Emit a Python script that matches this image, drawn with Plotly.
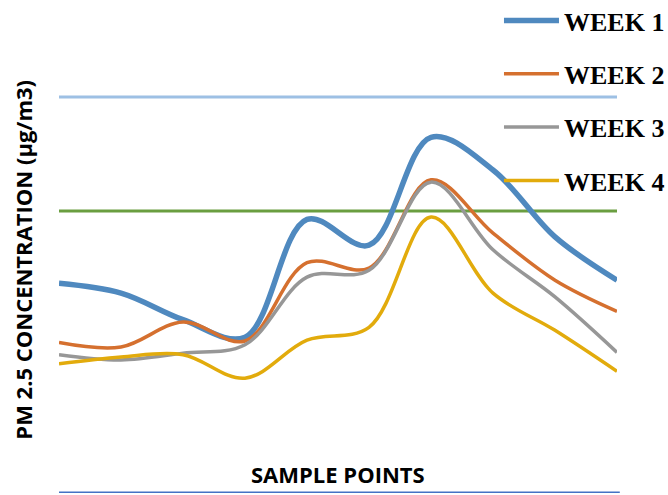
import plotly.graph_objects as go

# Sample points along the x axis (no tick labels shown)
sample_points = list(range(1, 11))

# Weekly PM2.5 concentrations (µg/m3) at each sample point
week1 = [25.5, 24.2, 20.7, 18.4, 33.9, 30.5, 44.7, 40.4, 31.6, 25.9]
week2 = [17.7, 17.1, 20.4, 17.9, 28.2, 27.5, 39.1, 32.1, 25.9, 21.8]
week3 = [16.1, 15.4, 16.3, 17.4, 26.3, 27.2, 38.8, 29.9, 23.7, 16.4]
week4 = [14.9, 15.8, 16.1, 13.0, 18.0, 19.7, 34.2, 24.2, 19.3, 13.9]

# Reference limits drawn as flat lines
limit_upper = 50
limit_lower = 35

series_names = ["WEEK 1", "WEEK 2", "WEEK 3", "WEEK 4"]
series_values = [week1, week2, week3, week4]
series_colors = ["#4f89bf", "#d5702f", "#979797", "#e2ab0c"]
series_widths = [5.5, 3.5, 3.5, 3.5]

fig = go.Figure()

fig.add_trace(go.Scatter(
    x=sample_points, y=[limit_upper] * len(sample_points), mode="lines",
    line=dict(color="#9dc0e4", width=3), showlegend=False, hoverinfo="skip"))
fig.add_trace(go.Scatter(
    x=sample_points, y=[limit_lower] * len(sample_points), mode="lines",
    line=dict(color="#6a9e40", width=3), showlegend=False, hoverinfo="skip"))

for i, (name, vals, col, w) in enumerate(zip(series_names, series_values, series_colors, series_widths)):
    fig.add_trace(go.Scatter(
        x=sample_points, y=vals, mode="lines", name=name, legendgroup=name,
        line=dict(color=col, width=w, shape="spline", smoothing=1.0)))

fig.update_layout(
    width=668, height=495,
    margin=dict(l=59, r=51, t=10, b=55, autoexpand=False),
    paper_bgcolor="white", plot_bgcolor="white",
    xaxis=dict(range=[1, 10], showgrid=False, zeroline=False, showticklabels=False,
               showline=False, ticks=""),
    yaxis=dict(range=[4.87, 61.45], showgrid=False, zeroline=False, showticklabels=False,
               showline=False, ticks=""),
    legend=dict(x=0.7885, y=1.030, xanchor="left", yanchor="top",
                bgcolor="rgba(0,0,0,0)", traceorder="grouped", tracegroupgap=16.5,
                itemwidth=55,
                font=dict(family="Liberation Serif", size=26, color="black", weight="bold")),
    annotations=[
        dict(text="<b>SAMPLE POINTS</b>", xref="paper", yref="paper", x=0.5, y=-0.08,
             xanchor="center", yanchor="middle", showarrow=False,
             font=dict(family="Open Sans", size=22, color="black")),
        dict(text="<b>PM 2.5 CONCENTRATION (µg/m3)</b>", xref="paper", yref="paper",
             x=-0.064, y=0.42, xanchor="center", yanchor="middle", textangle=-90,
             showarrow=False, font=dict(family="Open Sans", size=22, color="black")),
    ],
    shapes=[
        dict(type="line", xref="paper", yref="paper", x0=0, x1=1.005, y0=-0.1215, y1=-0.1215,
             line=dict(color="#4472c4", width=1.5)),
    ],
)

fig.write_html("out.html")
